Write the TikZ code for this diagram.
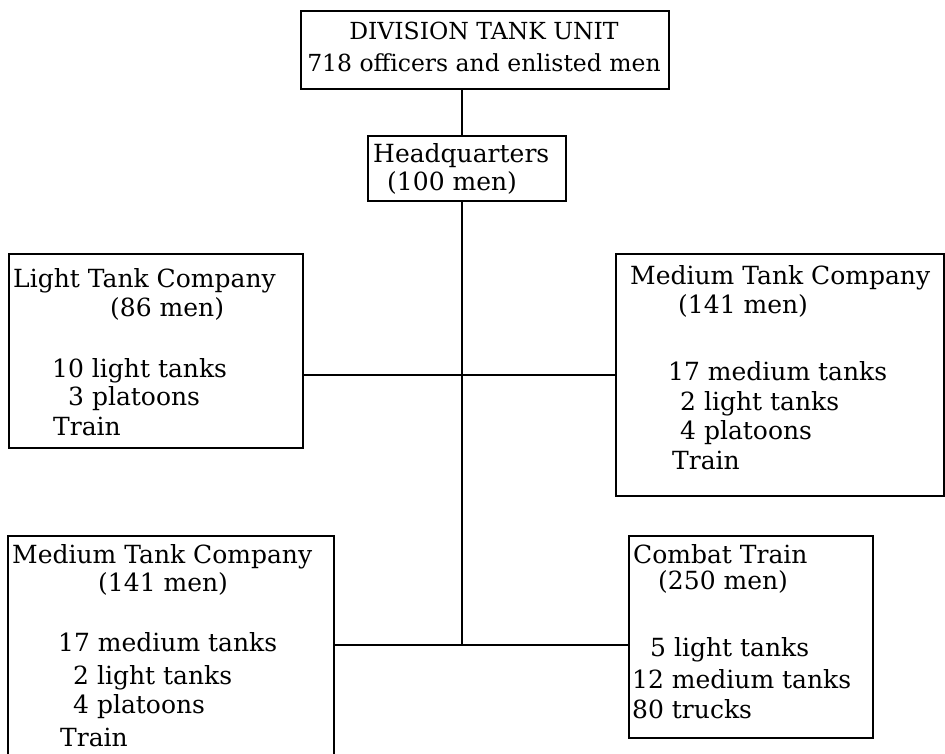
\documentclass[tikz,border=0pt]{standalone}
\usepackage{fontspec}
\setmainfont{DejaVu Serif}
\tikzset{
  box/.style={draw, line width=2pt, rectangle, inner sep=0pt, anchor=north west},
  txt/.style={anchor=base west, inner sep=0pt, font=\fontsize{25}{30}\selectfont},
  ttxt/.style={anchor=base, inner sep=0pt, font=\fontsize{23.5}{28}\selectfont},
  link/.style={line width=1.7pt}
}
\begin{document}
\begin{tikzpicture}[x=1pt,y=-1pt]
\useasboundingbox (0,0) rectangle (945,754);
% boxes
\node[box, minimum width=368pt, minimum height=78pt] (top) at (300,10) {};
\node[box, minimum width=198pt, minimum height=65pt] (hq) at (367,135) {};
\node[box, minimum width=294pt, minimum height=194pt] (lt) at (8,253) {};
\node[box, minimum width=328pt, minimum height=242pt] (mr) at (615,253) {};
\node[box, minimum width=326pt, minimum height=260pt] (bl) at (7,535) {};
\node[box, minimum width=244pt, minimum height=202pt] (ct) at (628,535) {};
% top texts
\node[ttxt] (t1) at (484,40) {DIVISION TANK UNIT};
\node[ttxt] (t2) at (484,72) {718 officers and enlisted men};
% headquarters
\node[txt] (h1) at (373,163) {Headquarters};
\node[txt] (h2) at (387,191) {(100 men)};
% light tank company
\node[txt] (l1) at (13,287) {Light Tank Company};
\node[txt] (l2) at (110,316) {(86 men)};
\node[txt] (l3) at (52,377) {10 light tanks};
\node[txt] (l4) at (68,405) {3 platoons};
\node[txt] (l5) at (53,435) {Train};
% medium tank company right
\node[txt] (m1) at (630,284) {Medium Tank Company};
\node[txt] (m2) at (678,313) {(141 men)};
\node[txt] (m3) at (668,380) {17 medium tanks};
\node[txt] (m4) at (680,410) {2 light tanks};
\node[txt] (m5) at (680,439) {4 platoons};
\node[txt] (m6) at (672,469) {Train};
% medium tank company bottom left
\node[txt] (b1) at (12,563) {Medium Tank Company};
\node[txt] (b2) at (98,591) {(141 men)};
\node[txt] (b3) at (58,651) {17 medium tanks};
\node[txt] (b4) at (73,684) {2 light tanks};
\node[txt] (b5) at (73,713) {4 platoons};
\node[txt] (b6) at (60,746) {Train};
% combat train
\node[txt] (c1) at (633,563) {Combat Train};
\node[txt] (c2) at (658,589) {(250 men)};
\node[txt] (c3) at (650,656) {5 light tanks};
\node[txt] (c4) at (632,688) {12 medium tanks};
\node[txt] (c5) at (632,718) {80 trucks};
% connectors
\coordinate (j1) at (462,375);
\coordinate (j2) at (462,645);
\draw[link] (top.south -| j1) -- (hq.north -| j1);
\draw[link] (hq.south -| j1) -- (j2);
\draw[link] (lt.east |- j1) -- (mr.west |- j1);
\draw[link] (bl.east |- j2) -- (ct.west |- j2);
\end{tikzpicture}
\end{document}
